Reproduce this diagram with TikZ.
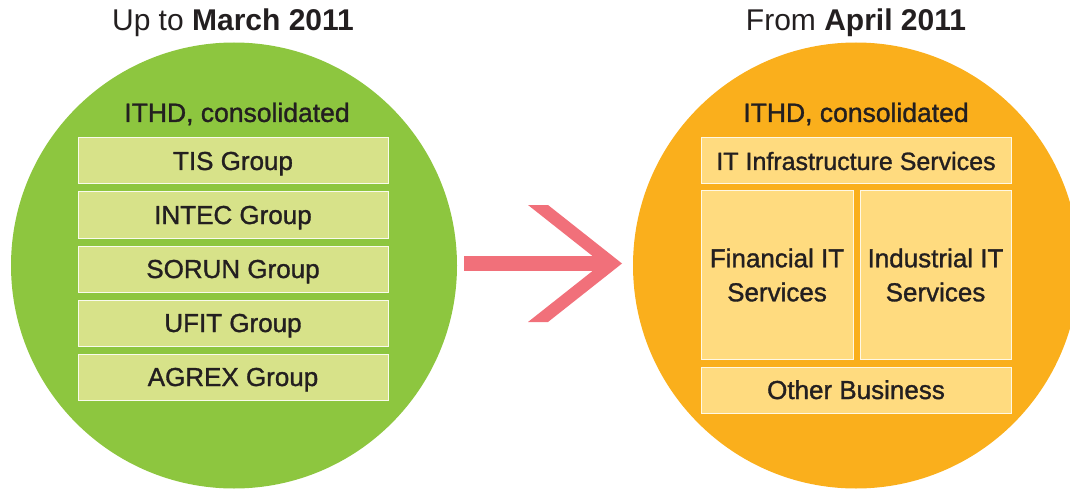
\documentclass[tikz,border=0pt]{standalone}
\usepackage{fontspec}
\setmainfont{Liberation Sans}
\newfontfamily\medfont{Liberation Sans}[FakeBold=1.2]
\definecolor{grn}{HTML}{8DC63F}
\definecolor{grnbox}{HTML}{D7E289}
\definecolor{org}{HTML}{FAAF1C}
\definecolor{orgbox}{HTML}{FFDB7F}
\definecolor{pinkarr}{HTML}{F1707A}
\definecolor{txt}{HTML}{231F20}
\tikzset{
  boxtext/.style={text=txt,font=\medfont\fontsize{26}{34}\selectfont},
  gbox/.style={boxtext,fill=grnbox,draw=white!85!grnbox,line width=1pt,minimum width=310pt,minimum height=46pt,inner sep=0pt,text height=18pt,text depth=0pt},
  obox/.style={boxtext,fill=orgbox,draw=white!80!orgbox,line width=1pt,inner sep=0pt,align=center},
  oline/.style={obox,text height=18pt,text depth=0pt,minimum width=310pt,minimum height=46pt},
  heading/.style={text=txt,font=\medfont\fontsize{26.5}{30}\selectfont},
  title/.style={text=txt,font=\fontsize{30}{32}\selectfont}
}
\begin{document}
\begin{tikzpicture}[x=1pt,y=-1pt]
\useasboundingbox (0,0) rectangle (1070,489);
\clip (0,0) rectangle (1070,489);
% circles
\fill[grn] (234,265.5) circle (223pt);
\fill[org] (856,265.5) circle (223pt);
% titles
\node[title] (t1) at (233,23) {Up to \textbf{March 2011}};
\node[title] (t2) at (856,23) {From \textbf{April 2011}};
% headings
\node[heading] (h1) at (237,114) {ITHD, consolidated};
\node[heading] (h2) at (856,114) {ITHD, consolidated};
% green boxes
\node[gbox] (tis) at (233,161) {TIS Group};
\node[gbox] (intec) at (233,215) {INTEC Group};
\node[gbox] (sorun) at (233,269) {SORUN Group};
\node[gbox] (ufit) at (233,323) {UFIT Group};
\node[gbox] (agrex) at (233,377) {AGREX Group};
% orange boxes
\node[oline,font=\medfont\fontsize{25}{34}\selectfont] (its) at (856,161) {IT Infrastructure Services};
\node[obox,minimum width=152pt,minimum height=168pt] (fin) at (777,275) {};
\node[obox,minimum width=151pt,minimum height=168pt] (ind) at (935.5,275) {};
\node[boxtext,align=center] (fint) at (777,275) {Financial IT\\Services};
\node[boxtext,align=center] (indt) at (935.5,275) {Industrial IT\\Services};
\node[oline] (oth) at (856,390) {Other Business};
% arrow
\fill[pinkarr] (464,256) rectangle (606,271);
\fill[pinkarr] (528,205) -- (548,205) -- (622,263.5) -- (548,322) -- (528,322) -- (602,263.5) -- cycle;
\end{tikzpicture}
\end{document}
